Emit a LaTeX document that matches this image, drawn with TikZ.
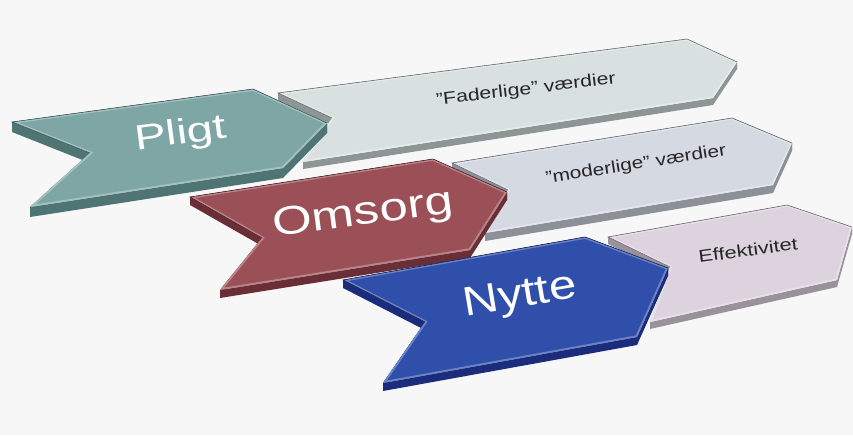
\documentclass[tikz,border=0pt]{standalone}
\usepackage{fontspec}
\setmainfont{Liberation Sans}
\usetikzlibrary{calc}
\definecolor{bg}{HTML}{F7F7F8}
\definecolor{pligttop}{HTML}{7DA6A4}
\definecolor{pligtside}{HTML}{4E7574}
\definecolor{fadtop}{HTML}{D8E0E0}
\definecolor{fadside}{HTML}{8E9595}
\definecolor{omstop}{HTML}{9B5058}
\definecolor{omsside}{HTML}{692E36}
\definecolor{modtop}{HTML}{D5D9E1}
\definecolor{modside}{HTML}{8C9099}
\definecolor{nyttop}{HTML}{2F4FAA}
\definecolor{nytside}{HTML}{1B2C7C}
\definecolor{efftop}{HTML}{DDD3DE}
\definecolor{effside}{HTML}{9A929B}
\newcommand\chevron[4]{%
  \foreach \u/\v in {a/b,b/c,c/d,d/e,e/f,f/a}{
    \fill[#3] (#1\u) -- (#1\v) -- ($(#1\v)+(0,#4)$) -- ($(#1\u)+(0,#4)$) -- cycle;}
  \begin{scope}
    \clip (#1a) -- (#1b) -- (#1c) -- (#1d) -- (#1e) -- (#1f) -- cycle;
    \fill[#2] (#1a) -- (#1b) -- (#1c) -- (#1d) -- (#1e) -- (#1f) -- cycle;
    \draw[#2!70!white, line width=3pt] (#1a) -- (#1b) -- (#1c) -- (#1d) -- (#1e) -- (#1f) -- cycle;
  \end{scope}
  \draw[#3!70!black, line width=0.5pt] (#1f) -- (#1a) -- (#1b) -- (#1c);
}
\begin{document}
\begin{tikzpicture}[x=0.03cm,y=-0.03cm,
  biglabel/.style={text=white, inner sep=0pt},
  smalllabel/.style={text=black!85, inner sep=0pt, font=\fontsize{14.5}{15}\selectfont}]
\fill[bg] (0,0) rectangle (853,435);
\useasboundingbox (0,0) rectangle (853,435);

% coordinates
\coordinate (Fa) at (278,93);  \coordinate (Fb) at (687,39);  \coordinate (Fc) at (737,62);
\coordinate (Fd) at (713,98);  \coordinate (Fe) at (303,162); \coordinate (Ff) at (332,118);
\coordinate (Pa) at (12,122);  \coordinate (Pb) at (253,89);  \coordinate (Pc) at (327,123);
\coordinate (Pd) at (283,168); \coordinate (Pe) at (30,207);  \coordinate (Pf) at (90,153);
\coordinate (Ma) at (452,163); \coordinate (Mb) at (732,118); \coordinate (Mc) at (792,143);
\coordinate (Md) at (773,185); \coordinate (Me) at (485,233); \coordinate (Mf) at (508,190);
\coordinate (Oa) at (190,197); \coordinate (Ob) at (433,159); \coordinate (Oc) at (507,192);
\coordinate (Od) at (470,250); \coordinate (Oe) at (220,290); \coordinate (Of) at (262,238);
\coordinate (Ea) at (608,237); \coordinate (Eb) at (787,205); \coordinate (Ec) at (852,227);
\coordinate (Ed) at (837,280); \coordinate (Ee) at (650,322); \coordinate (Ef) at (670,267);
\coordinate (Na) at (343,280); \coordinate (Nb) at (585,237); \coordinate (Nc) at (668,268);
\coordinate (Nd) at (637,337); \coordinate (Ne) at (383,383); \coordinate (Nf) at (425,322);

\chevron{F}{fadtop}{fadside}{7}
\node[smalllabel, rotate=6.8, xscale=1.25] (fadtxt) at (526,90) {”Faderlige” værdier};
\chevron{P}{pligttop}{pligtside}{10}
\node[biglabel, rotate=7.5, xscale=1.35, font=\fontsize{30}{30}\selectfont] (pligt) at (181,135) {Pligt};

\chevron{M}{modtop}{modside}{8}
\node[smalllabel, rotate=9, xscale=1.23] (modtxt) at (636,165) {”moderlige” værdier};
\chevron{O}{omstop}{omsside}{8}
\node[biglabel, rotate=7.5, xscale=1.28, font=\fontsize{34}{34}\selectfont] (omsorg) at (363,215) {Omsorg};

\chevron{E}{efftop}{effside}{7}
\node[smalllabel, rotate=7.7, xscale=1.28] (efftxt) at (748,250) {Effektivitet};
\chevron{N}{nyttop}{nytside}{8}
\node[biglabel, rotate=9.5, xscale=1.2, font=\fontsize{35}{35}\selectfont] (nytte) at (520,297) {Nytte};
\end{tikzpicture}
\end{document}
